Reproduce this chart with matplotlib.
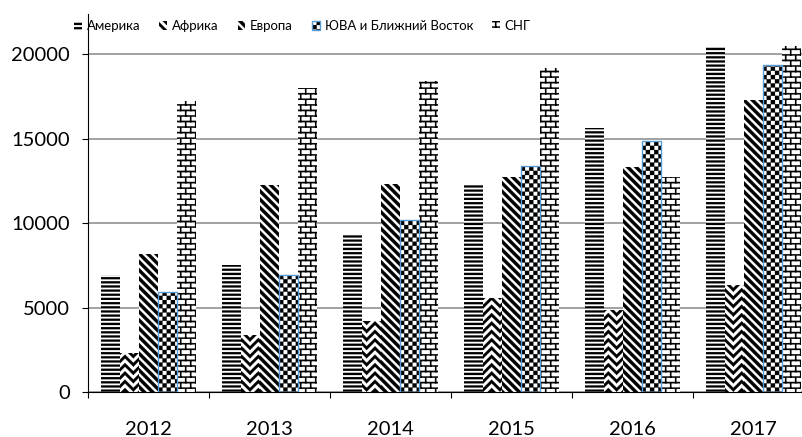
import warnings
import numpy as np
import matplotlib
matplotlib.use("Agg")
import matplotlib.pyplot as plt
import matplotlib.hatch as mhatch
from matplotlib.path import Path
from matplotlib.legend_handler import HandlerTuple

warnings.filterwarnings("ignore")

# data
years = ["2012", "2013", "2014", "2015", "2016", "2017"]
series_names = ["Америка", "Африка", "Европа", "ЮВА и Ближний Восток", "СНГ"]
america = [6950, 7500, 9350, 12300, 15650, 20450]
africa = [2350, 3400, 4200, 5550, 4850, 6350]
europe = [8150, 12250, 12300, 12750, 13300, 17250]
sea_me = [5900, 6950, 10200, 13350, 14850, 19350]
cis = [17200, 18000, 18400, 19150, 12750, 20450]
y_ticks = [0, 5000, 10000, 15000, 20000]


# Excel-like pattern fills, built as filled polygons in the hatch tile
# (the tile is 1 inch = 100 px here)
class PolyHatch(mhatch.HatchPatternBase):
    char = None

    def __init__(self, hatch, density):
        self.polys = self.make_polys() if self.char in hatch else []
        self.num_vertices = sum(len(p) + 1 for p in self.polys)

    def set_vertices_and_codes(self, vertices, codes):
        k = 0
        for poly in self.polys:
            m = len(poly)
            vertices[k:k + m] = poly
            vertices[k + m] = poly[0]
            codes[k] = Path.MOVETO
            codes[k + 1:k + m] = Path.LINETO
            codes[k + m] = Path.CLOSEPOLY
            k += m + 1


class StripeHatch(PolyHatch):
    # horizontal bands
    char = 'h'

    def make_polys(self):
        n, t = 24, 0.5 / 24
        return [[(0, y), (1, y), (1, y + t), (0, y + t)]
                for y in np.arange(n) / n]


class ZigzagHatch(PolyHatch):
    # wide zigzag (chevrons pointing up)
    char = 'z'

    def make_polys(self):
        cols, rows = 6, 12
        w, h = 1 / cols, 1 / rows
        t = 0.45 / rows
        polys = []
        for r in range(-1, rows):
            for c in range(cols):
                x0, y0 = c * w, r * h
                polys.append([(x0, y0), (x0 + w / 2, y0 + h), (x0 + w, y0),
                              (x0 + w, y0 + t), (x0 + w / 2, y0 + h + t),
                              (x0, y0 + t)])
        return polys


class DiagHatch(PolyHatch):
    # wide downward diagonal
    char = 'd'

    def make_polys(self):
        n = 12
        d = 0.55 / n
        return [[(0, b), (1, b - 1), (1, b - 1 + d), (0, b + d)]
                for b in np.arange(-1, 2 * n + 2) / n]


class CheckerHatch(PolyHatch):
    char = 'c'

    def make_polys(self):
        n = 24
        s = 1 / n
        return [[(i * s, j * s), ((i + 1) * s, j * s),
                 ((i + 1) * s, (j + 1) * s), (i * s, (j + 1) * s)]
                for i in range(n) for j in range(n) if (i + j) % 2 == 0]


class BrickHatch(PolyHatch):
    char = 'b'

    def make_polys(self):
        rows, cols = 18, 10
        h, w = 1 / rows, 1 / cols
        t = 0.014
        polys = []
        for r in range(rows):
            y0 = r * h
            polys.append([(0, y0), (1, y0), (1, y0 + t), (0, y0 + t)])
            for c in range(cols + 1):
                x = (c + 0.5 * (r % 2)) * w
                polys.append([(x, y0), (x + t, y0), (x + t, y0 + h),
                              (x, y0 + h)])
        return polys


mhatch._hatch_types += [StripeHatch, ZigzagHatch, DiagHatch,
                        CheckerHatch, BrickHatch]
mhatch._validate_hatch_pattern = lambda hatch: None

plt.rcParams['font.family'] = ['Lato', 'Noto Sans', 'DejaVu Sans']
plt.rcParams['hatch.linewidth'] = 0.15

hatches = ['h', 'z', 'd', 'c', 'b']
series = [america, africa, europe, sea_me, cis]

fig = plt.figure(figsize=(8.02, 4.37), dpi=100)
ax = fig.add_axes([88 / 802, 44.7 / 437, 726 / 802, 378.3 / 437])

x = np.arange(len(years))
bw = 0.157
handles = []
for i, (vals, hatch) in enumerate(zip(series, hatches)):
    pos = x + (i - 2) * bw
    bars = ax.bar(pos, vals, width=bw, color='white', edgecolor='black',
                  linewidth=0, hatch=hatch, zorder=2)
    if i == 3:
        outline = ax.bar(pos, vals, width=bw, fill=False, edgecolor='#5b9bd5',
                         linewidth=1.0, zorder=3)
        handles.append((bars[0], outline[0]))
    else:
        handles.append(bars[0])

ax.set_xlim(-0.5, len(years) - 0.5)
ax.set_ylim(0, 22360)
ax.set_yticks(y_ticks)
ax.set_yticklabels([str(v) for v in y_ticks])
ax.set_xticks(np.arange(len(years) + 1) - 0.5)
ax.set_xticklabels([])
ax.set_xticks(x, minor=True)
ax.set_xticklabels(years, minor=True)
ax.tick_params(axis='x', which='major', length=4.5, width=0.8, direction='out')
ax.tick_params(axis='x', which='minor', length=0, pad=21, labelsize=14.5)
ax.tick_params(axis='y', length=4.5, width=0.8, direction='out', pad=8.5,
               labelsize=14.5)

ax.set_axisbelow(True)
ax.yaxis.grid(True, color='#888888', linewidth=1.1)
ax.xaxis.grid(False)
for side in ['top', 'right']:
    ax.spines[side].set_visible(False)
ax.spines['left'].set_linewidth(0.8)
ax.spines['bottom'].set_linewidth(0.8)

fig.legend(handles, series_names, loc='center left',
           bbox_to_anchor=(74 / 802, 1 - 26 / 437), ncol=5, frameon=False,
           fontsize=9.5, handlelength=0.6, handleheight=0.6,
           handletextpad=0.35, columnspacing=1.45, borderpad=0,
           borderaxespad=0, handler_map={tuple: HandlerTuple(ndivide=1)})

fig.savefig("out.png", dpi=100)
